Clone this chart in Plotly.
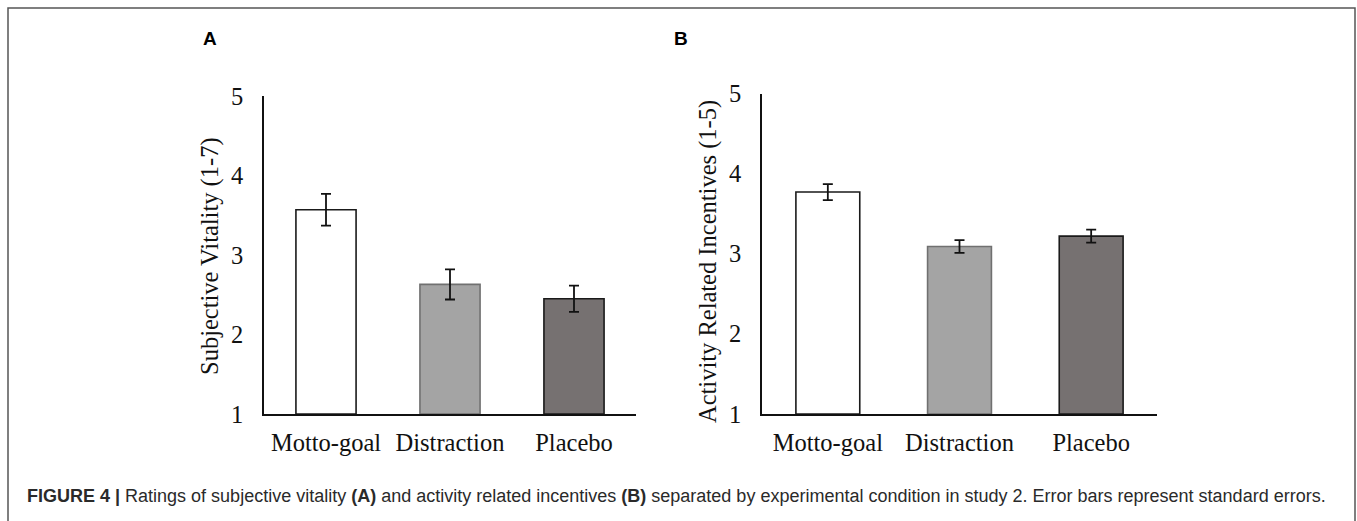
import plotly.graph_objects as go

W, H = 1357, 521

categories = ["Motto-goal", "Distraction", "Placebo"]
vitality_mean = [3.57, 2.63, 2.45]
vitality_se = [0.20, 0.19, 0.165]
incentive_mean = [3.77, 3.09, 3.22]
incentive_se = [0.10, 0.08, 0.08]
y_ticks = [1, 2, 3, 4, 5]

bar_fill = ["#ffffff", "#a4a4a4", "#767171"]
bar_line = ["#1a1a1a", "#707070", "#1a1a1a"]


def px_x(p):
    return p / W


def px_y(p):
    return (H - p) / H


serif = "Liberation Serif, Times New Roman, serif"

fig = go.Figure()

fig.add_trace(go.Bar(
    x=categories, y=[v - 1 for v in vitality_mean], base=1,
    marker=dict(color=bar_fill, line=dict(color=bar_line, width=1.6)),
    error_y=dict(type="data", array=vitality_se, color="#111", thickness=1.8, width=5),
    xaxis="x", yaxis="y", showlegend=False, hoverinfo="skip",
))
fig.add_trace(go.Bar(
    x=categories, y=[v - 1 for v in incentive_mean], base=1,
    marker=dict(color=bar_fill, line=dict(color=bar_line, width=1.6)),
    error_y=dict(type="data", array=incentive_se, color="#111", thickness=1.8, width=5),
    xaxis="x2", yaxis="y2", showlegend=False, hoverinfo="skip",
))

xcommon = dict(showline=True, linecolor="#111", linewidth=1.6, showgrid=False,
               zeroline=False, ticks="", ticklabelstandoff=6, automargin=False,
               tickfont=dict(family=serif, size=24.5, color="#111"))
ycommon = dict(showline=True, linecolor="#111", linewidth=1.6, showgrid=False,
               zeroline=False, ticks="", range=[1, 5], tickvals=y_ticks,
               ticklabelstandoff=14, automargin=False,
               tickfont=dict(family=serif, size=24.5, color="#111"))

fig.update_layout(
    template="none",
    width=W, height=H,
    margin=dict(l=0, r=0, t=0, b=0, pad=0, autoexpand=False),
    paper_bgcolor="white", plot_bgcolor="white",
    bargap=0.515,
    xaxis=dict(domain=[px_x(264), px_x(636)], anchor="y", **xcommon),
    yaxis=dict(domain=[px_y(414), px_y(96)], anchor="x", **ycommon),
    xaxis2=dict(domain=[px_x(762), px_x(1157)], anchor="y2", **xcommon),
    yaxis2=dict(domain=[px_y(414), px_y(93.5)], anchor="x2", **ycommon),
)

# axis titles
fig.add_annotation(text="Subjective Vitality (1-7)", x=px_x(210), y=px_y(256),
                   xref="paper", yref="paper", textangle=-90, showarrow=False,
                   font=dict(family=serif, size=24.5, color="#111"),
                   xanchor="center", yanchor="middle")
fig.add_annotation(text="Activity Related Incentives (1-5)", x=px_x(708), y=px_y(262),
                   xref="paper", yref="paper", textangle=-90, showarrow=False,
                   font=dict(family=serif, size=24.5, color="#111"),
                   xanchor="center", yanchor="middle")

# panel letters
for letter, xp in [("A", 210), ("B", 681)]:
    fig.add_annotation(text=f"<b>{letter}</b>", x=px_x(xp), y=px_y(38),
                       xref="paper", yref="paper", showarrow=False,
                       font=dict(family="Liberation Sans, Arial, sans-serif", size=19, color="#000"),
                       xanchor="center", yanchor="middle")

# caption
caption = ("<b>FIGURE 4 |</b> Ratings of subjective vitality <b>(A)</b> and activity related "
           "incentives <b>(B)</b> separated by experimental condition in study 2. "
           "Error bars represent standard errors.")
fig.add_annotation(text=caption, x=px_x(25), y=px_y(496), xref="paper", yref="paper",
                   showarrow=False, xanchor="left", yanchor="middle",
                   font=dict(family="Liberation Sans, Arial, sans-serif",
                             size=18, color="#2a2a2a"))

# outer frame
fig.add_shape(type="rect", xref="paper", yref="paper",
              x0=px_x(8), x1=px_x(1355), y0=px_y(540), y1=px_y(8),
              line=dict(color="#555", width=1.5), fillcolor="rgba(0,0,0,0)")

fig.write_html("out.html")
